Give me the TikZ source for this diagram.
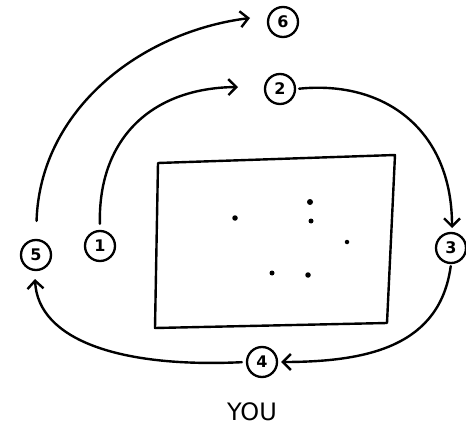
\documentclass[tikz,border=0pt]{standalone}
\usepackage{fontspec}
\setmainfont{DejaVu Sans}
\usetikzlibrary{arrows.meta}
\begin{document}
\begin{tikzpicture}[x=1pt,y=-1pt,
  ink/.style={line width=2.4pt,line cap=round,line join=round,black},
  num/.style={circle,draw,line width=2.3pt,minimum size=30pt,inner sep=0pt,font=\fontsize{16}{16}\selectfont\bfseries},
  conn/.style={ink,-{Straight Barb[length=8pt,width=16pt,line width=2.4pt]}},
  dot/.style={circle,fill=black,inner sep=0pt,minimum size=5pt}]
\useasboundingbox (0,0) rectangle (466,433);
% nodes
\node[num] (n6) at (283,22) {6};
\node[num] (n2) at (280,89) {2};
\node[num] (n1) at (100,246) {1};
\node[num] (n5) at (36,255) {5};
\node[num] (n3) at (451,248) {3};
\node[num] (n4) at (262,362) {4};
\node[font=\fontsize{24}{24}\selectfont] (you) at (252,412) {YOU};
% board
\coordinate (tl) at (158,163);
\coordinate (tr) at (395,155);
\coordinate (br) at (387,323);
\coordinate (bl) at (155,328);
\draw[ink] (tl) -- (tr) -- (br) -- (bl) -- cycle;
% dots
\node[dot,minimum size=5.5pt] (d1) at (235,218) {};
\node[dot,minimum size=6pt] (d2) at (310,202) {};
\node[dot] (d3) at (311,221) {};
\node[dot,minimum size=4.5pt] (d4) at (347,242) {};
\node[dot] (d5) at (272,273) {};
\node[dot,minimum size=5.5pt] (d6) at (308,275) {};
% connectors
\coordinate (a6) at (250,18);
\coordinate (a2) at (238,87);
\coordinate (a3) at (452,228);
\coordinate (a5) at (35,279);
\draw[conn,shorten <=18pt] (n5.north) .. controls (40,110) and (140,32) .. (a6);
\draw[conn,shorten <=6pt] (n1.north) .. controls (98,140) and (150,88) .. (a2);
\draw[conn,shorten <=3pt] (n2.east) .. controls (385,80) and (452,130) .. (a3);
\draw[conn,shorten <=2pt,shorten >=3pt] (n3.south) .. controls (440,345) and (370,362) .. (n4.east);
\draw[conn,shorten <=4pt] (n4.west) .. controls (120,368) and (38,340) .. (a5);
\end{tikzpicture}
\end{document}
